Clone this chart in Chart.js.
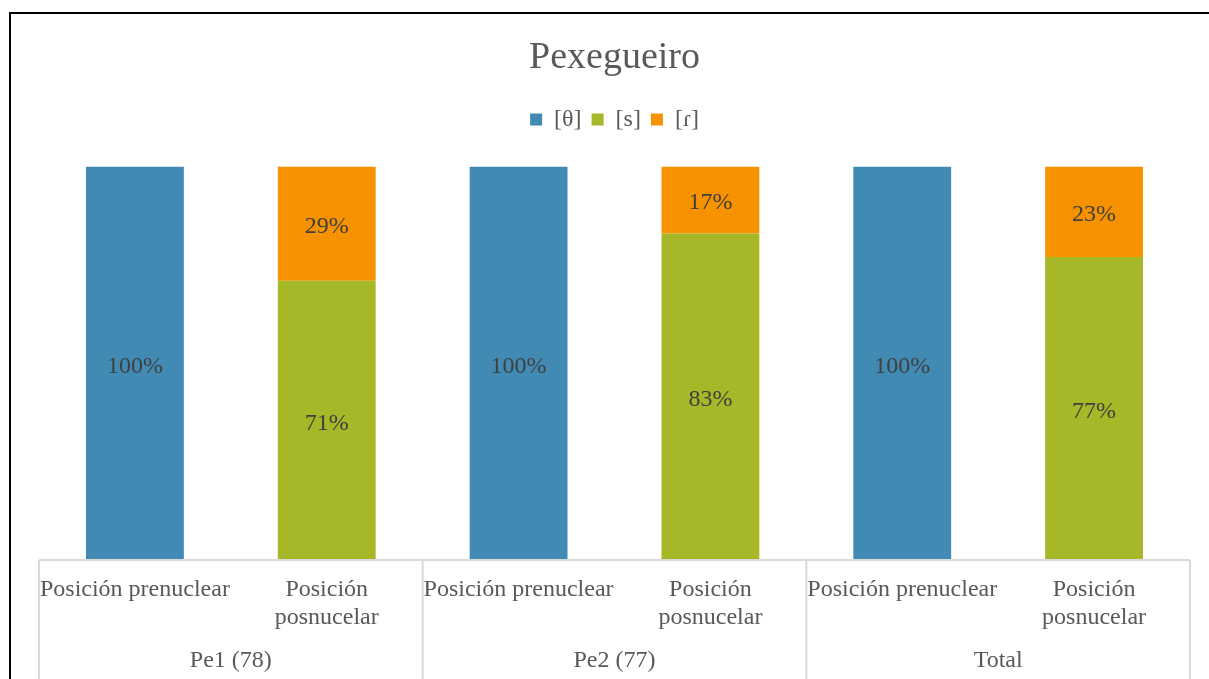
<!DOCTYPE html>
<html>
<head>
<meta charset="utf-8">
<script src="https://cdn.jsdelivr.net/npm/chart.js@4"></script>
<style>
  html, body { margin: 0; padding: 0; background: #ffffff; }
  #wrap { position: relative; width: 1209px; height: 679px; }
</style>
</head>
<body>
<div id="wrap"><canvas id="c" width="1209" height="679"></canvas></div>
<script>
// ---- data ----
const categories = [
  "Posición prenuclear", ["Posición", "posnucelar"],
  "Posición prenuclear", ["Posición", "posnucelar"],
  "Posición prenuclear", ["Posición", "posnucelar"]
];
const groups = ["Pe1 (78)", "Pe2 (77)", "Total"];
const seriesNames = ["[θ]", "[s]", "[ɾ]"];
const thetaValues = [100, 0, 100, 0, 100, 0];
const sValues     = [0, 71, 0, 83, 0, 77];
const rValues     = [0, 29, 0, 17, 0, 23];
const yTicks = [0, 100];

const SERIF = "'Liberation Serif', 'Times New Roman', serif";
const colors = ["#418AB3", "#A6B727", "#F69200"];

const framePlugin = {
  id: 'frame',
  beforeDraw(chart) {
    const ctx = chart.ctx;
    ctx.save();
    ctx.fillStyle = '#ffffff';
    ctx.fillRect(0, 0, chart.width, chart.height);
    ctx.fillStyle = '#000000';
    ctx.fillRect(9, 12, chart.width - 9, 2);
    ctx.fillRect(9, 12, 2, chart.height - 12);
    ctx.restore();
  },
  afterDraw(chart) {
    const ctx = chart.ctx;
    const x = chart.scales.x;
    const bottom = chart.chartArea.bottom;
    ctx.save();
    ctx.strokeStyle = '#d9d9d9';
    ctx.lineWidth = 2;
    ctx.beginPath();
    ctx.moveTo(x.left, bottom);
    ctx.lineTo(x.right, bottom);
    const bounds = [x.left];
    for (let i = 1; i < groups.length; i++) {
      const k = i * 2;
      bounds.push((x.getPixelForValue(k - 1) + x.getPixelForValue(k)) / 2);
    }
    bounds.push(x.right);
    bounds.forEach(b => { ctx.moveTo(b, bottom); ctx.lineTo(b, chart.height); });
    ctx.stroke();
    ctx.restore();
  }
};

const labelPlugin = {
  id: 'barLabels',
  afterDatasetsDraw(chart) {
    const ctx = chart.ctx;
    ctx.save();
    ctx.font = "24px " + SERIF;
    ctx.fillStyle = '#404040';
    ctx.textAlign = 'center';
    ctx.textBaseline = 'middle';
    chart.data.datasets.forEach((ds, di) => {
      const meta = chart.getDatasetMeta(di);
      meta.data.forEach((bar, i) => {
        const v = ds.data[i];
        if (!v) return;
        const cy = (bar.y + bar.base) / 2 + 3;
        ctx.fillText(v + '%', bar.x, cy);
      });
    });
    ctx.restore();
  }
};

new Chart(document.getElementById('c'), {
  type: 'bar',
  data: {
    labels: categories,
    datasets: [
      { label: seriesNames[0], data: thetaValues, backgroundColor: colors[0], borderWidth: 0 },
      { label: seriesNames[1], data: sValues, backgroundColor: colors[1], borderWidth: 0 },
      { label: seriesNames[2], data: rValues, backgroundColor: colors[2], borderWidth: 0 }
    ]
  },
  options: {
    responsive: false,
    animation: false,
    layout: { padding: { left: 39, right: 19, top: 0, bottom: 0 } },
    datasets: { bar: { categoryPercentage: 1.0, barPercentage: 0.51 } },
    plugins: {
      tooltip: { enabled: false },
      title: {
        display: true,
        text: 'Pexegueiro',
        color: '#595959',
        font: { family: SERIF, size: 38, weight: 'normal', lineHeight: 1.2 },
        padding: { top: 35, bottom: 17 }
      },
      legend: {
        display: true,
        position: 'top',
        labels: {
          color: '#595959',
          font: { family: SERIF, size: 24 },
          boxWidth: 12,
          boxHeight: 12,
          padding: 10
        }
      }
    },
    scales: {
      x: {
        type: 'category',
        position: 'bottom',
        stacked: true,
        weight: 0,
        grid: { display: false, drawTicks: false },
        border: { display: false },
        ticks: {
          color: '#595959',
          font: { family: SERIF, size: 24, lineHeight: 1.17 },
          padding: 16,
          autoSkip: false,
          maxRotation: 0,
          minRotation: 0
        },
        afterFit(s) { s.height = 84; }
      },
      x2: {
        type: 'category',
        position: 'bottom',
        labels: groups,
        weight: 1,
        offset: true,
        grid: { display: false, drawTicks: false },
        border: { display: false },
        ticks: {
          color: '#595959',
          font: { family: SERIF, size: 24, lineHeight: 1.17 },
          padding: 3,
          autoSkip: false,
          maxRotation: 0,
          minRotation: 0
        },
        afterFit(s) { s.height = 35; }
      },
      xTop: {
        type: 'category',
        position: 'top',
        labels: groups,
        grid: { display: false, drawTicks: false },
        border: { display: false },
        ticks: { display: false },
        afterFit(s) { s.height = 25; }
      },
      y: {
        stacked: true,
        display: false,
        min: yTicks[0],
        max: yTicks[1]
      }
    }
  },
  plugins: [framePlugin, labelPlugin]
});
</script>
</body>
</html>
